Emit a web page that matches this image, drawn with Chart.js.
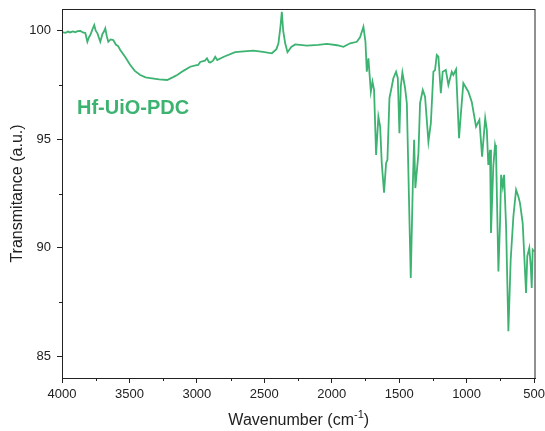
<!DOCTYPE html>
<html>
<head>
<meta charset="utf-8">
<title>Hf-UiO-PDC FTIR</title>
<script src="https://cdn.jsdelivr.net/npm/chart.js@4/dist/chart.umd.min.js"></script>
<style>
  html, body { margin: 0; padding: 0; background: #fff; }
  #wrap { width: 545px; height: 431px; position: relative; }
</style>
</head>
<body>
<div id="wrap"><canvas id="ftir"></canvas></div>
<script>
// FTIR 谱图数据
const wavenumbers = [
  3998, 3975, 3955, 3939, 3920, 3901, 3885, 3864, 3845, 3827,
  3812, 3800, 3790, 3775, 3761, 3750, 3738, 3725, 3716, 3700,
  3690, 3679, 3668, 3657, 3640, 3620, 3600, 3585, 3568, 3530,
  3494, 3460, 3420, 3380, 3346, 3280, 3220, 3180, 3146, 3100,
  3049, 3010, 2990, 2975, 2940, 2925, 2910, 2901, 2880, 2864,
  2849, 2800, 2716, 2650, 2582, 2510, 2444, 2410, 2395, 2380,
  2370, 2360, 2345, 2328, 2300, 2271, 2184, 2100, 2036, 1960,
  1913, 1863, 1814, 1790, 1765, 1750, 1740, 1728, 1710, 1698,
  1686, 1671, 1654, 1641, 1629, 1612, 1597, 1587, 1572, 1555,
  1543, 1523, 1510, 1498, 1488, 1476, 1456, 1443, 1414, 1399,
  1389, 1380, 1357, 1345, 1325, 1308, 1283, 1265, 1246, 1234,
  1221, 1209, 1191, 1177, 1154, 1135, 1110, 1098, 1078, 1056,
  1043, 1024, 987, 962, 930, 905, 885, 862, 850, 839,
  826, 819, 802, 789, 782, 764, 752, 744, 732, 722,
  707, 690, 673, 653, 633, 616, 604, 584, 559, 550,
  535, 524, 517, 510, 500,
];
const transmittance = [
  99.93, 99.90, 99.96, 99.92, 99.97, 99.93, 99.98, 99.99, 99.92, 99.89,
  99.49, 99.70, 99.80, 100.05, 100.26, 100.00, 99.89, 99.65, 99.49, 99.85,
  99.95, 100.11, 99.75, 99.49, 99.60, 99.57, 99.35, 99.30, 99.11, 98.78,
  98.42, 98.15, 97.96, 97.85, 97.82, 97.76, 97.73, 97.85, 97.96, 98.15,
  98.34, 98.40, 98.42, 98.56, 98.62, 98.73, 98.55, 98.53, 98.62, 98.80,
  98.65, 98.80, 99.01, 99.05, 99.08, 99.02, 98.96, 99.15, 99.42, 100.20,
  100.87, 100.00, 99.42, 99.01, 99.25, 99.37, 99.31, 99.35, 99.39, 99.33,
  99.26, 99.42, 99.49, 99.70, 100.18, 99.50, 98.11, 98.73, 97.19, 97.65,
  97.27, 94.28, 96.04, 95.58, 93.90, 92.54, 93.90, 94.05, 96.89, 97.42,
  97.81, 98.11, 97.81, 95.28, 97.42, 98.07, 97.35, 96.66, 88.61, 92.82,
  94.97, 92.75, 94.36, 96.66, 97.27, 96.96, 94.89, 95.74, 98.11, 98.19,
  98.88, 98.80, 97.12, 98.11, 98.19, 97.50, 98.11, 97.96, 98.22, 95.05,
  96.12, 97.58, 97.19, 96.73, 95.58, 95.89, 94.20, 95.97, 95.43, 93.82,
  94.51, 90.68, 93.74, 94.74, 94.51, 88.91, 91.14, 93.36, 92.82, 93.36,
  90.98, 86.15, 89.45, 91.44, 92.67, 92.36, 92.06, 91.14, 87.92, 89.60,
  89.99, 89.14, 88.15, 89.91, 89.83,
];

// 刻度
const xMajorTicks = [4000, 3500, 3000, 2500, 2000, 1500, 1000, 500];
const xMinorTicks = [3750, 3250, 2750, 2250, 1750, 1250, 750];
const yMajorTicks = [85, 90, 95, 100];
const yMinorTicks = [87.5, 92.5, 97.5];

const SAMPLE_LABEL = 'Hf-UiO-PDC';
const LINE_COLOR = '#3cb371';
const AXIS_COLOR = '#222';
const FONT = '"Liberation Sans", Arial, sans-serif';

/**
 * 边框、次刻度、样品名、横轴标题（带上标）
 */
const framePlugin = {
  id: 'frame',
  afterDraw(chart) {
    const { ctx, chartArea: a, scales: { x, y } } = chart;
    ctx.save();
    ctx.strokeStyle = AXIS_COLOR;
    ctx.lineWidth = 1;
    ctx.strokeRect(a.left + 0.5, a.top + 0.5, a.right - a.left - 1, a.bottom - a.top);

    // 次刻度
    ctx.beginPath();
    xMinorTicks.forEach(v => {
      const px = Math.round(x.getPixelForValue(v)) + 0.5;
      ctx.moveTo(px, a.bottom);
      ctx.lineTo(px, a.bottom + 3);
    });
    yMinorTicks.forEach(v => {
      const py = Math.round(y.getPixelForValue(v)) + 0.5;
      ctx.moveTo(a.left, py);
      ctx.lineTo(a.left - 3, py);
    });
    ctx.stroke();

    // 样品名
    ctx.fillStyle = LINE_COLOR;
    ctx.font = `bold 20px ${FONT}`;
    ctx.textAlign = 'left';
    ctx.textBaseline = 'alphabetic';
    ctx.fillText(SAMPLE_LABEL, a.left + 15, a.top + 105);

    // 横轴标题
    const main = 'Wavenumber (cm';
    const sup = '-1';
    const tail = ')';
    ctx.fillStyle = AXIS_COLOR;
    ctx.font = `16px ${FONT}`;
    const wMain = ctx.measureText(main).width;
    const wTail = ctx.measureText(tail).width;
    ctx.font = `11px ${FONT}`;
    const wSup = ctx.measureText(sup).width;
    const total = wMain + wSup + wTail;
    let cx = (a.left + a.right) / 2 - total / 2;
    const base = a.bottom + 47;
    ctx.font = `16px ${FONT}`;
    ctx.fillText(main, cx, base);
    cx += wMain;
    ctx.font = `11px ${FONT}`;
    ctx.fillText(sup, cx, base - 7);
    cx += wSup;
    ctx.font = `16px ${FONT}`;
    ctx.fillText(tail, cx, base);
    ctx.restore();
  },
};

const points = wavenumbers.map((w, i) => ({ x: w, y: transmittance[i] }));

new Chart(document.getElementById('ftir'), {
  type: 'scatter',
  data: {
    datasets: [{
      data: points,
      showLine: true,
      borderColor: LINE_COLOR,
      borderWidth: 1.8,
      pointRadius: 0,
      tension: 0,
    }],
  },
  options: {
    responsive: true,
    maintainAspectRatio: false,
    animation: false,
    layout: { padding: { top: 9, right: 9.5, left: 0, bottom: 0 } },
    plugins: {
      legend: { display: false },
      tooltip: { enabled: false },
    },
    scales: {
      x: {
        type: 'linear',
        reverse: true,
        min: 489,
        max: 4000,
        afterFit: s => {
          s.height = 53;
          s.paddingLeft = 0;
          s.paddingRight = 0;
        },
        afterBuildTicks: s => { s.ticks = xMajorTicks.map(v => ({ value: v })); },
        grid: { drawOnChartArea: false, tickLength: 5, tickColor: AXIS_COLOR },
        border: { color: AXIS_COLOR, width: 1 },
        ticks: {
          color: AXIS_COLOR,
          font: { family: FONT, size: 13 },
          padding: 4,
          maxRotation: 0,
          callback: v => String(v),
        },
      },
      y: {
        min: 84,
        max: 101,
        afterFit: s => {
          s.width = 62;
          s.paddingTop = 0;
          s.paddingBottom = 0;
        },
        afterBuildTicks: s => { s.ticks = yMajorTicks.map(v => ({ value: v })); },
        grid: { drawOnChartArea: false, tickLength: 5, tickColor: AXIS_COLOR },
        border: { color: AXIS_COLOR, width: 1 },
        title: {
          display: true,
          text: 'Transmitance (a.u.)',
          color: AXIS_COLOR,
          font: { family: FONT, size: 16 },
          padding: { top: 8, bottom: 0 },
        },
        ticks: {
          color: AXIS_COLOR,
          font: { family: FONT, size: 13 },
          padding: 6,
          callback: v => String(v),
        },
      },
    },
  },
  plugins: [framePlugin],
});
</script>
</body>
</html>
